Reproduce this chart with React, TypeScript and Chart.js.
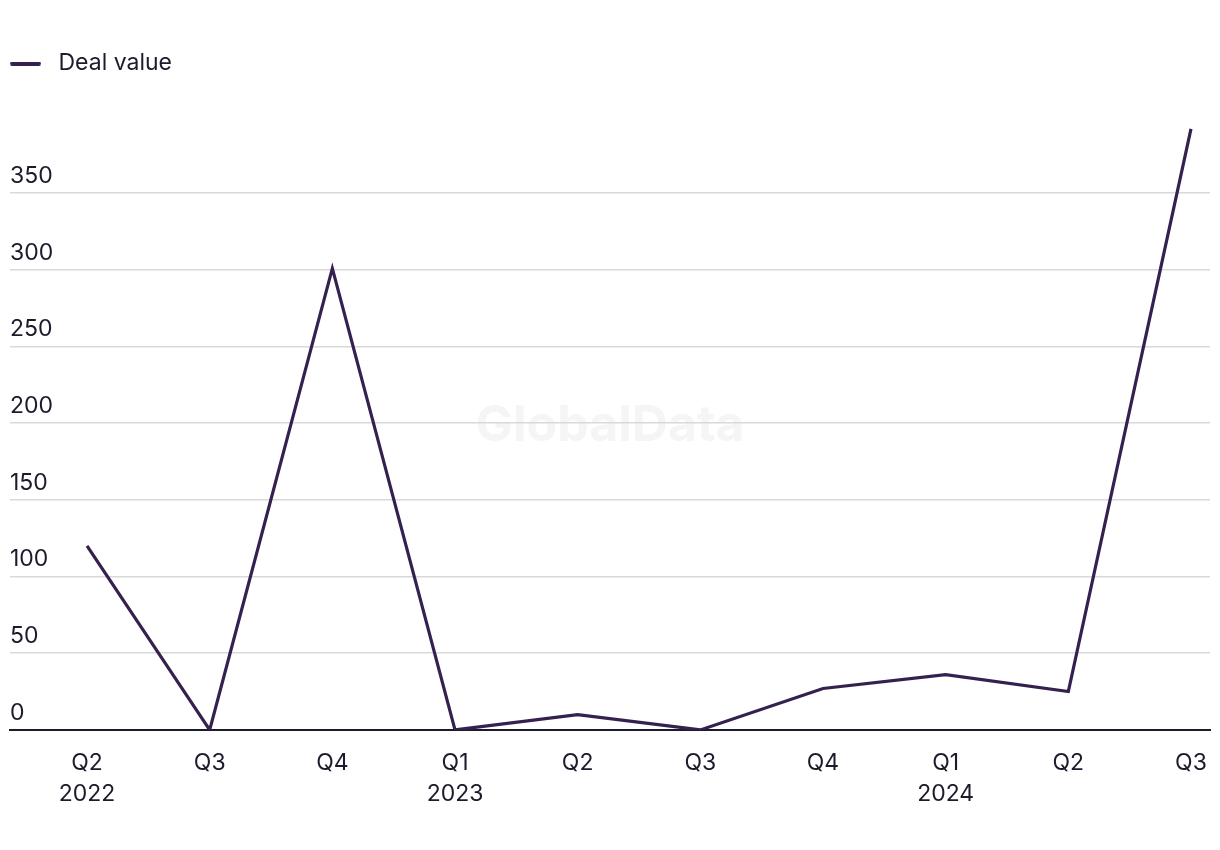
import React, { useEffect, useRef } from "react";
import { Chart, registerables } from "chart.js";

Chart.register(...registerables);

const quarterLabels = ["Q2", "Q3", "Q4", "Q1", "Q2", "Q3", "Q4", "Q1", "Q2", "Q3"];
const yearLabels = ["2022", "", "", "2023", "", "", "", "2024", "", ""];
const dealValues = [120, 0, 301, 0, 10, 0, 27, 36, 25, 392];
const yTickValues = [0, 50, 100, 150, 200, 250, 300, 350];

const LINE_COLOR = "#34214f";
const TEXT_COLOR = "#1b1b2c";
const GRID_COLOR = "#d9d9d9";
const FONT = "Inter, 'Liberation Sans', sans-serif";

function makeLegendSwatch(): HTMLCanvasElement {
  const c = document.createElement("canvas");
  c.width = 37;
  c.height = 4;
  const ctx = c.getContext("2d")!;
  ctx.fillStyle = LINE_COLOR;
  ctx.beginPath();
  ctx.moveTo(2, 0);
  ctx.lineTo(29, 0);
  ctx.arc(29, 2, 2, -Math.PI / 2, Math.PI / 2);
  ctx.lineTo(2, 4);
  ctx.arc(2, 2, 2, Math.PI / 2, (3 * Math.PI) / 2);
  ctx.fill();
  return c;
}

const watermarkPlugin = {
  id: "watermark",
  beforeDraw(chart: any) {
    const { ctx, chartArea, scales } = chart;
    const y = scales.y.getPixelForValue(200);
    const x = (chartArea.left + chartArea.right) / 2;
    ctx.save();
    ctx.font = `bold 50px ${FONT}`;
    ctx.fillStyle = "#f5f5f5";
    ctx.textAlign = "center";
    ctx.textBaseline = "middle";
    ctx.fillText("GlobalData", x, y + 3);
    ctx.restore();
  },
};

export default function App() {
  const canvasRef = useRef<HTMLCanvasElement | null>(null);

  useEffect(() => {
    if (!canvasRef.current) return;
    const points = dealValues.map((v, i) => ({ x: i, y: v }));
    const chart = new Chart(canvasRef.current, {
      type: "line",
      data: {
        datasets: [
          {
            label: "Deal value",
            data: points,
            borderColor: LINE_COLOR,
            backgroundColor: LINE_COLOR,
            borderWidth: 3.2,
            pointRadius: 0,
            pointHoverRadius: 0,
            tension: 0,
            fill: false,
          },
        ],
      },
      options: {
        animation: false,
        responsive: true,
        maintainAspectRatio: false,
        layout: { padding: { left: 2, right: 2, top: 44, bottom: 14 } },
        plugins: {
          tooltip: { enabled: false },
          legend: {
            display: true,
            position: "top",
            align: "start",
            labels: {
              usePointStyle: true,
              pointStyle: makeLegendSwatch(),
              pointStyleWidth: 37,
              padding: 0,
              color: TEXT_COLOR,
              font: { family: FONT, size: 23 },
            },
          },
        },
        scales: {
          x: {
            type: "linear",
            min: -0.628,
            max: 9.155,
            border: { display: true, color: TEXT_COLOR, width: 2 },
            grid: { display: false, drawTicks: false },
            afterFit: (scale: any) => {
              scale.paddingLeft = 0;
              scale.paddingRight = 0;
            },
            ticks: {
              stepSize: 1,
              includeBounds: false,
              autoSkip: false,
              maxRotation: 0,
              padding: 18,
              color: TEXT_COLOR,
              font: { family: FONT, size: 23, lineHeight: 1.35 },
              callback: (value: any) => {
                const i = Number(value);
                if (!Number.isInteger(i) || i < 0 || i >= quarterLabels.length) return "";
                return yearLabels[i] ? [quarterLabels[i], yearLabels[i]] : quarterLabels[i];
              },
            },
          },
          y: {
            type: "linear",
            min: 0,
            max: 420.6,
            border: { display: false },
            afterBuildTicks: (scale: any) => {
              scale.ticks = yTickValues.map((v) => ({ value: v }));
            },
            grid: {
              color: GRID_COLOR,
              lineWidth: 1.5,
              drawTicks: false,
            },
            ticks: {
              mirror: true,
              padding: 0,
              color: TEXT_COLOR,
              font: { family: FONT, size: 23, lineHeight: 1.5 },
              callback: (value: any) => [String(value), ""],
            },
          },
        },
      },
      plugins: [watermarkPlugin],
    });
    return () => chart.destroy();
  }, []);

  return (
    <div style={{ width: 1204, height: 834, position: "relative" }}>
      <canvas ref={canvasRef} />
    </div>
  );
}
